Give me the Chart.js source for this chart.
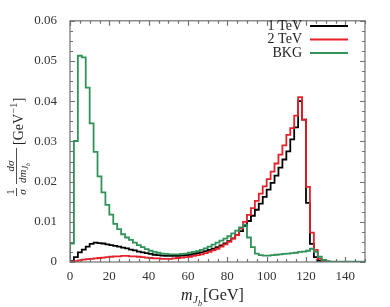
<!DOCTYPE html>
<html><head><meta charset="utf-8">
<script src="https://cdn.jsdelivr.net/npm/chart.js@4.4.0/dist/chart.umd.min.js"></script>
<style>html,body{margin:0;padding:0;background:#fff;}#wrap{width:390px;height:307px;}</style>
</head><body><div id="wrap"><canvas id="c" width="390" height="307"></canvas></div>
<script>
// ---- data (bin left edges, 2 GeV bins) ----
const binEdges = [0,2,4,6,8,10,12,14,16,18,20,22,24,26,28,30,32,34,36,38,40,42,44,46,48,50,52,54,56,58,60,62,64,66,68,70,72,74,76,78,80,82,84,86,88,90,92,94,96,98,100,102,104,106,108,110,112,114,116,118,120,122,124,126,128,130,132,134,136,138,140,142,144,146,148];
const series1TeV = [
0.0002,0.0012,0.0024,0.0031,0.0038,0.0045,0.0048,0.0047,0.0046,0.0044,
0.0042,0.0040,0.0038,0.0036,0.0034,0.0031,0.0029,0.0026,0.0024,0.0022,
0.0020,0.0018,0.0017,0.0016,0.0015,0.0015,0.0015,0.0015,0.0016,0.0017,
0.0018,0.0020,0.0022,0.0024,0.0027,0.0030,0.0033,0.0037,0.0041,0.0046,
0.0052,0.0059,0.0067,0.0077,0.0090,0.0102,0.0115,0.0130,0.0145,0.0162,
0.0180,0.0197,0.0215,0.0235,0.0255,0.0275,0.0305,0.0335,0.0400,0.0354,
0.0147,0.0045,0.0012,0.0003,0.0001,0,0,0,0,0,
0,0,0,0,0];
const series2TeV = [
0,0.0002,0.0004,0.0006,0.0007,0.0008,0.0009,0.0010,0.0011,0.0012,
0.0013,0.0014,0.0014,0.0015,0.0015,0.0014,0.0014,0.0013,0.0012,0.0011,
0.0010,0.0009,0.0009,0.0008,0.0008,0.0008,0.0009,0.0010,0.0011,0.0012,
0.0013,0.0015,0.0017,0.0019,0.0022,0.0025,0.0029,0.0033,0.0038,0.0044,
0.0050,0.0058,0.0067,0.0083,0.0100,0.0117,0.0134,0.0152,0.0170,0.0188,
0.0206,0.0225,0.0245,0.0267,0.0290,0.0316,0.0333,0.0364,0.0410,0.0354,
0.0187,0.0073,0.0030,0.0008,0.0002,0.0001,0,0,0,0,
0,0,0,0,0];
const seriesBKG = [
0.0046,0.0301,0.0513,0.0509,0.0434,0.0345,0.0274,0.0213,0.0173,0.0142,
0.0118,0.0095,0.0082,0.0069,0.0061,0.0055,0.0048,0.0042,0.0037,0.0032,
0.0028,0.0025,0.0023,0.0021,0.0020,0.0019,0.0019,0.0019,0.0020,0.0021,
0.0023,0.0025,0.0027,0.0030,0.0034,0.0038,0.0043,0.0048,0.0053,0.0058,
0.0064,0.0071,0.0078,0.0086,0.0093,0.0061,0.0037,0.0021,0.0017,0.0016,
0.0016,0.0017,0.0018,0.0019,0.0020,0.0021,0.0022,0.0023,0.0025,0.0026,
0.0028,0.0033,0.0025,0.0013,0.0005,0.0002,0.0001,0.0001,0.0001,0.0001,
0.0001,0.0001,0.0001,0.0001,0.0001];
const seriesLabels = ['1 TeV','2 TeV','BKG'];
const seriesColors = ['#000000','#e8202a','#2f9359'];
const xTicks = [0,20,40,60,80,100,120,140];
const yTicks = [0,0.01,0.02,0.03,0.04,0.05,0.06];
const xMin = 0, xMax = 150, yMin = 0, yMax = 0.06;

const SERIF = '"Liberation Serif", "DejaVu Serif", serif';

function histPoints(vals){
  const pts = [{x: binEdges[0], y: 0}];
  vals.forEach((v,i)=>pts.push({x: binEdges[i], y: v}));
  pts.push({x: xMax, y: vals[vals.length-1]});
  return pts;
}

const allSeries = [series1TeV, series2TeV, seriesBKG];
const datasets = allSeries.map((s,i)=>({
  label: seriesLabels[i],
  data: histPoints(s),
  borderColor: seriesColors[i],
  backgroundColor: seriesColors[i],
  borderWidth: 1.8,
  stepped: 'before',
  pointRadius: 0,
  fill: false,
  borderJoinStyle: 'miter',
  order: [3,2,1][i]
}));

const framePlugin = {
  id: 'frame',
  afterDatasetsDraw(chart){
    const ctx = chart.ctx, a = chart.chartArea;
    const xs = chart.scales.x, ys = chart.scales.y;
    ctx.save();
    ctx.strokeStyle = '#707070';
    ctx.lineWidth = 1.2;
    ctx.beginPath();
    for (let v = xMin; v <= xMax; v += 5){
      const px = Math.round(xs.getPixelForValue(v)) + 0.5;
      const len = (v % 20 === 0) ? 5 : 3;
      ctx.moveTo(px, a.bottom); ctx.lineTo(px, a.bottom - len);
      ctx.moveTo(px, a.top); ctx.lineTo(px, a.top + len);
    }
    for (let k = 0; k <= 24; k++){
      const v = k * 0.0025;
      const py = Math.round(ys.getPixelForValue(v)) + 0.5;
      const len = (k % 4 === 0) ? 5 : 3;
      ctx.moveTo(a.left, py); ctx.lineTo(a.left + len, py);
      ctx.moveTo(a.right, py); ctx.lineTo(a.right - len, py);
    }
    ctx.stroke();
    ctx.strokeRect(a.left, a.top, a.right - a.left, a.bottom - a.top);
    ctx.restore();

    // legend
    ctx.save();
    ctx.font = '14px ' + SERIF;
    ctx.textAlign = 'right';
    ctx.textBaseline = 'middle';
    const ly = [26, 39.5, 53];
    chart.data.datasets.forEach((d,i)=>{
      ctx.fillStyle = '#222';
      ctx.fillText(d.label, 302, ly[i]);
      ctx.strokeStyle = d.borderColor;
      ctx.lineWidth = 1.8;
      ctx.beginPath(); ctx.moveTo(310, ly[i]); ctx.lineTo(348, ly[i]); ctx.stroke();
    });
    ctx.restore();

    // x title: m_{J_b}[GeV]
    ctx.save();
    ctx.fillStyle = '#222';
    ctx.textBaseline = 'alphabetic';
    ctx.textAlign = 'left';
    let x = 181;
    ctx.font = 'italic 16px ' + SERIF; ctx.fillText('m', x, 300); x += ctx.measureText('m').width + 0.5;
    ctx.font = 'italic 11px ' + SERIF; ctx.fillText('J', x, 303); x += ctx.measureText('J').width;
    ctx.font = 'italic 8px ' + SERIF; ctx.fillText('b', x, 305.5); x += ctx.measureText('b').width + 1;
    ctx.font = '16px ' + SERIF; ctx.fillText('[GeV]', x, 300);
    ctx.restore();

    // y title: 1/sigma dsigma/dm_{J_b} [GeV^-1]
    ctx.save();
    ctx.translate(17, 140);
    ctx.rotate(-Math.PI/2);
    ctx.fillStyle = '#222';
    ctx.strokeStyle = '#222';
    ctx.lineWidth = 0.8;
    ctx.textBaseline = 'alphabetic';
    ctx.textAlign = 'center';
    ctx.font = '11px ' + SERIF; ctx.fillText('1', -52, -3);
    ctx.font = 'italic 11px ' + SERIF; ctx.fillText('σ', -52, 8.5);
    ctx.beginPath(); ctx.moveTo(-56, -0.5); ctx.lineTo(-48, -0.5); ctx.stroke();
    ctx.fillText('dσ', -26, -3);
    ctx.beginPath(); ctx.moveTo(-44, -0.5); ctx.lineTo(-8, -0.5); ctx.stroke();
    ctx.textAlign = 'left';
    let dx = -43;
    ctx.font = 'italic 11px ' + SERIF; ctx.fillText('dm', dx, 8.5); dx += ctx.measureText('dm').width;
    ctx.font = 'italic 8px ' + SERIF; ctx.fillText('J', dx, 10.5); dx += ctx.measureText('J').width;
    ctx.font = 'italic 6px ' + SERIF; ctx.fillText('b', dx, 12.5);
    let gx = -5;
    ctx.font = '14px ' + SERIF; ctx.fillText('[GeV', gx, 6); gx += ctx.measureText('[GeV').width + 0.5;
    ctx.font = '10px ' + SERIF; ctx.fillText('−1', gx, 0); gx += ctx.measureText('−1').width + 0.5;
    ctx.font = '14px ' + SERIF; ctx.fillText(']', gx, 6);
    ctx.restore();
  }
};

new Chart(document.getElementById('c'), {
  type: 'line',
  data: { datasets },
  options: {
    responsive: false,
    animation: false,
    devicePixelRatio: 1,
    layout: { padding: { top: 14, right: 25, left: 0, bottom: 0 } },
    plugins: { legend: { display: false }, tooltip: { enabled: false } },
    scales: {
      x: {
        type: 'linear', min: xMin, max: xMax,
        afterFit(s){ s.height = 45; },
        afterBuildTicks(s){ s.ticks = xTicks.map(v=>({value:v})); },
        grid: { display: false, drawTicks: false },
        border: { display: false },
        ticks: { font: { family: SERIF, size: 13 }, color: '#333', padding: 7, maxRotation: 0, autoSkip: false }
      },
      y: {
        type: 'linear', min: yMin, max: yMax,
        afterFit(s){ s.width = 70; },
        afterBuildTicks(s){ s.ticks = yTicks.map(v=>({value:v})); },
        grid: { display: false, drawTicks: false },
        border: { display: false },
        ticks: { font: { family: SERIF, size: 13 }, color: '#333', padding: 13,
          callback: v => v === 0 ? '0' : v.toFixed(2) }
      }
    }
  },
  plugins: [framePlugin]
});
</script></body></html>
